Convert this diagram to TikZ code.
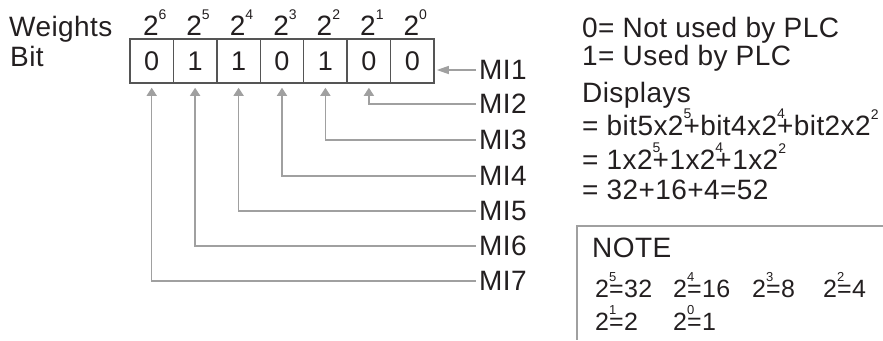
\documentclass[tikz,border=0pt]{standalone}
\usepackage{fontspec}
\setmainfont[LetterSpace=1.5]{Liberation Sans}
\usetikzlibrary{arrows.meta}
\definecolor{ink}{HTML}{231F20}
\definecolor{wire}{HTML}{A0A0A0}
\definecolor{boxline}{HTML}{555555}
\newcommand\ovsup[1]{\rlap{\raisebox{0.6em}{\fontsize{14bp}{14bp}\selectfont #1}}}
\newcommand\wsup[1]{\raisebox{0.56em}{\fontsize{14bp}{14bp}\selectfont #1}}
\newcommand\nsup[1]{\rlap{\raisebox{0.62em}{\fontsize{13bp}{13bp}\selectfont #1}}}
\begin{document}
\begin{tikzpicture}[x=1bp,y=-1bp,
  txt/.style={font=\fontsize{28bp}{32bp}\selectfont, text=ink, inner sep=0pt, anchor=base west},
  small/.style={font=\fontsize{25bp}{30bp}\selectfont, text=ink, inner sep=0pt, anchor=base west},
  wt/.style={font=\fontsize{28bp}{32bp}\selectfont, text=ink, inner sep=0pt, anchor=base},
  cell/.style={draw=boxline, line width=1.5bp, minimum width=43.43bp, minimum height=44bp, inner sep=0pt, font=\fontsize{27bp}{30bp}\selectfont, text=ink},
  mi/.style={font=\fontsize{28bp}{32bp}\selectfont, text=ink, inner sep=0pt, anchor=west},
  arr/.style={draw=wire, line width=1.3bp, -{Triangle[length=8bp,width=10bp]}, shorten >=4bp, shorten <=3bp},
  arrh/.style={draw=wire, line width=1.3bp, -{Triangle[length=12bp,width=8bp]}, shorten >=2bp, shorten <=3bp},
  frame/.style={draw=wire, line width=1.5bp}]
\useasboundingbox (0,0) rectangle (883,340);

% left labels
\node[txt] (weights) at (9,36) {Weights};
\node[txt] (bit) at (10,66) {Bit};

% bit cells
\node[cell] (c6) at (151.7,61) {0};
\node[cell] (c5) at (195.1,61) {1};
\node[cell] (c4) at (238.6,61) {1};
\node[cell] (c3) at (282.0,61) {0};
\node[cell] (c2) at (325.4,61) {1};
\node[cell] (c1) at (368.9,61) {0};
\node[cell] (c0) at (412.3,61) {0};

% weights
\node[wt] (w6) at (154.7,35) {2\wsup{6}};
\node[wt] (w5) at (198.1,35) {2\wsup{5}};
\node[wt] (w4) at (241.6,35) {2\wsup{4}};
\node[wt] (w3) at (285.0,35) {2\wsup{3}};
\node[wt] (w2) at (328.4,35) {2\wsup{2}};
\node[wt] (w1) at (371.9,35) {2\wsup{1}};
\node[wt] (w0) at (415.3,35) {2\wsup{0}};

% MI labels
\node[mi] (mi1) at (479,70) {MI1};
\node[mi] (mi2) at (479,104) {MI2};
\node[mi] (mi3) at (479,140) {MI3};
\node[mi] (mi4) at (479,176) {MI4};
\node[mi] (mi5) at (479,211) {MI5};
\node[mi] (mi6) at (479,246) {MI6};
\node[mi] (mi7) at (479,281) {MI7};

% connectors
\draw[arrh] (mi1.west) -- (mi1.west -| c0.east);
\draw[arr] (mi2.west) -| (c1.south);
\draw[arr] (mi3.west) -| (c2.south);
\draw[arr] (mi4.west) -| (c3.south);
\draw[arr] (mi5.west) -| (c4.south);
\draw[arr] (mi6.west) -| (c5.south);
\draw[arr] (mi7.west) -| (c6.south);

% right explanation
\node[txt] (l0) at (582,37) {0= Not used by PLC};
\node[txt] (l1) at (582,65) {1= Used by PLC};
\node[txt] (l2) at (582,102) {Displays};
\node[txt] (l3) at (582,135) {= bit5x2\ovsup{5}+bit4x2\ovsup{4}+bit2x2\wsup{2}};
\node[txt] (l4) at (582,169) {= 1x2\ovsup{5}+1x2\ovsup{4}+1x2\wsup{2}};
\node[txt] (l5) at (582,199) {= 32+16+4=52};

% note box
\draw[frame] (883,226) -- (577,226) -- (577,340);
\node[txt] (note) at (592,257) {NOTE};
\node[small] (p5) at (595,297) {2\nsup{5}=32};
\node[small] (p4) at (673,297) {2\nsup{4}=16};
\node[small] (p3) at (752,297) {2\nsup{3}=8};
\node[small] (p2) at (823,297) {2\nsup{2}=4};
\node[small] (p1) at (595,330) {2\nsup{1}=2};
\node[small] (p0) at (673,330) {2\nsup{0}=1};
\end{tikzpicture}
\end{document}
